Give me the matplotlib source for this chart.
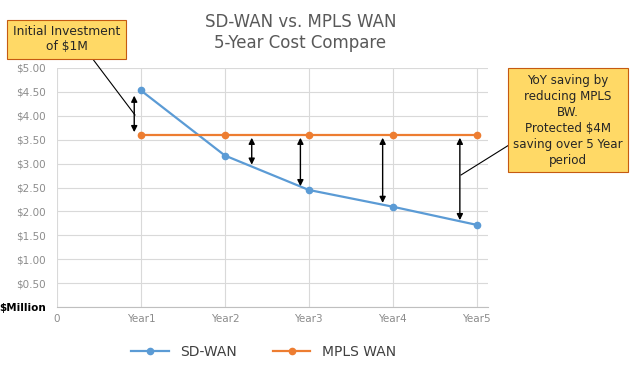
import matplotlib.pyplot as plt
from matplotlib.patches import FancyArrowPatch

years = [1, 2, 3, 4, 5]
year_labels = ["0", "Year1", "Year2", "Year3", "Year4", "Year5"]
sdwan = [4.53, 3.17, 2.45, 2.10, 1.72]
mpls = [3.60, 3.60, 3.60, 3.60, 3.60]
y_ticks = [0, 0.5, 1, 1.5, 2, 2.5, 3, 3.5, 4, 4.5, 5]

# arrows between the two lines (x position, bottom, top)
arrow_x = [0.92, 2.32, 2.9, 3.88, 4.8]
arrow_lo = [3.60, 2.92, 2.47, 2.12, 1.76]
arrow_hi = [4.48, 3.60, 3.60, 3.60, 3.60]

blue = '#5B9BD5'
orange = '#ED7D31'
grid_c = '#D9D9D9'
text_c = '#595959'

fig = plt.figure(figsize=(6.35, 3.82), dpi=100)
ax = fig.add_axes([0.0898, 0.196, 0.678, 0.626])

ax.plot(years, sdwan, color=blue, lw=1.6, marker='o', ms=4.5, label='SD-WAN', zorder=3)
ax.plot(years, mpls, color=orange, lw=1.6, marker='o', ms=4.5, label='MPLS WAN', zorder=3)

for x, lo, hi in zip(arrow_x, arrow_lo, arrow_hi):
    ax.add_patch(FancyArrowPatch((x, lo), (x, hi), arrowstyle='<|-|>', mutation_scale=9,
                                 color='black', lw=1.0, zorder=4))

ax.set_xlim(0, 5.13)
ax.set_ylim(0, 5)
ax.set_xticks(range(6))
ax.set_xticklabels(year_labels, fontsize=7.5, color='#8C8C8C')
ax.set_yticks(y_ticks)
ylabels = ['$%.2f' % v for v in y_ticks]
ylabels[0] = '$Million'
ax.set_yticklabels(ylabels, fontsize=7.5, color='#8C8C8C')
ax.get_yticklabels()[0].set_fontweight('bold')
ax.get_yticklabels()[0].set_color('black')
ax.tick_params(axis='y', length=0, pad=8)
ax.tick_params(axis='x', length=0, pad=5)
ax.grid(True, color=grid_c, lw=0.8)
for s in ['top', 'right', 'left']:
    ax.spines[s].set_visible(False)
ax.spines['bottom'].set_color('#BFBFBF')

fig.text(0.473, 0.915, 'SD-WAN vs. MPLS WAN\n5-Year Cost Compare', ha='center', va='center',
         fontsize=12, color=text_c, linespacing=1.25)

box = dict(boxstyle='square,pad=0.45', fc='#FFD966', ec='#C55A11', lw=0.8)
fig.text(0.105, 0.897, 'Initial Investment\nof $1M', ha='center', va='center', fontsize=8.8,
         color='#262626', bbox=box, linespacing=1.2)
fig.text(0.894, 0.685, 'YoY saving by\nreducing MPLS\nBW.\nProtected $4M\nsaving over 5 Year\nperiod',
         ha='center', va='center', fontsize=8.6, color='#262626', bbox=box, linespacing=1.3)

# leader lines
fig.add_artist(plt.Line2D([92 / 635, 135 / 635], [1 - 58 / 382, 1 - 115 / 382], color='black', lw=0.8))
fig.add_artist(plt.Line2D([461 / 635, 509 / 635], [1 - 175 / 382, 1 - 145 / 382], color='black', lw=0.8))

fig.legend(loc='center', bbox_to_anchor=(0.415, 0.078), ncol=2, frameon=False, fontsize=10,
           handlelength=2.7, columnspacing=2.6, labelcolor='#404040')

fig.savefig('out.png', dpi=100)
